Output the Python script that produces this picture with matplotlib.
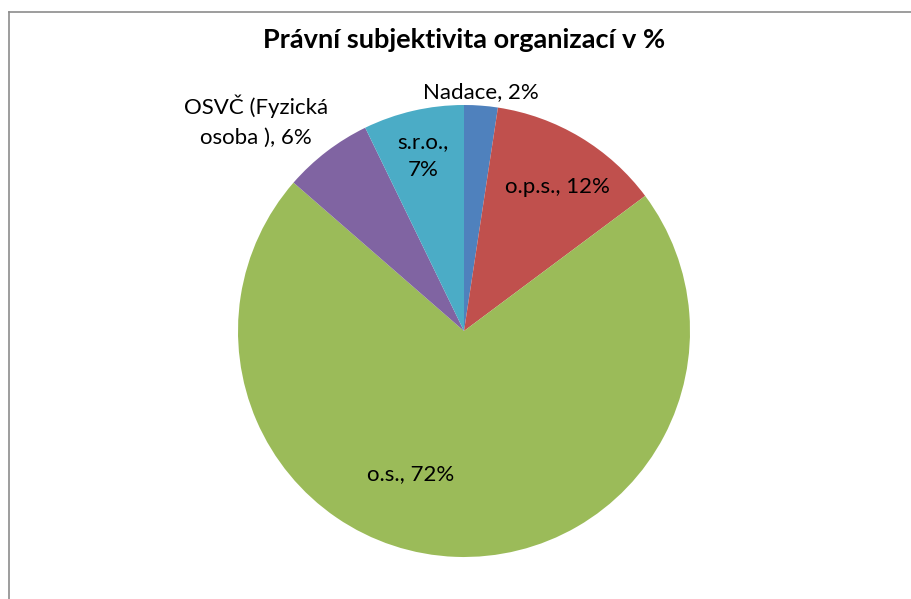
import matplotlib
matplotlib.use("Agg")
import matplotlib.pyplot as plt
from matplotlib.lines import Line2D

plt.rcParams['font.family'] = ['Lato', 'DejaVu Sans']

categories = ["Nadace", "o.p.s.", "o.s.", "OSVČ (Fyzická\nosoba )", "s.r.o."]
values = [2.4, 12.4, 71.6, 6.4, 7.2]
pct_labels = ["2%", "12%", "72%", "6%", "7%"]
colors = ["#4F81BD", "#C0504D", "#9BBB59", "#8064A2", "#4BACC6"]
title = "Právní subjektivita organizací v %"

# label positions in pie units (radius = 1)
label_pos = [(0.075, 1.055), (0.412, 0.637), (-0.235, -0.632), (-0.92, 0.927), (-0.18, 0.774)]

W, H = 912, 599
fig = plt.figure(figsize=(W / 100, H / 100), dpi=100)
fig.patch.set_facecolor("white")

cx, cy, r = 464, 331, 226
ax = fig.add_axes([(cx - r) / W, (H - cy - r) / H, 2 * r / W, 2 * r / H])
ax.pie(values, colors=colors, startangle=90, counterclock=False,
       wedgeprops=dict(linewidth=0))
ax.set_xlim(-1, 1)
ax.set_ylim(-1, 1)
ax.set_aspect("auto")
ax.axis("off")

for i, (cat, pct) in enumerate(zip(categories, pct_labels)):
    if cat == "s.r.o.":
        txt = f"{cat},\n{pct}"
        ls = 1.45
    else:
        txt = f"{cat}, {pct}"
        ls = 1.6
    x, y = label_pos[i]
    ax.text(x, y, txt, ha="center", va="center", fontsize=16,
            color="black", linespacing=ls, clip_on=False)

fig.text(cx / W, 1 - 40 / H, title, ha="center", va="center",
         fontsize=19.5, fontweight="bold")

# chart border (left and top)
bx, by = 9.5 / W, 1 - 11.5 / H
fig.add_artist(Line2D([bx, bx], [0, by], transform=fig.transFigure, color="#8c8c8c", lw=1.2))
fig.add_artist(Line2D([bx, 1], [by, by], transform=fig.transFigure, color="#8c8c8c", lw=1.2))

fig.savefig("out.png", dpi=100)
